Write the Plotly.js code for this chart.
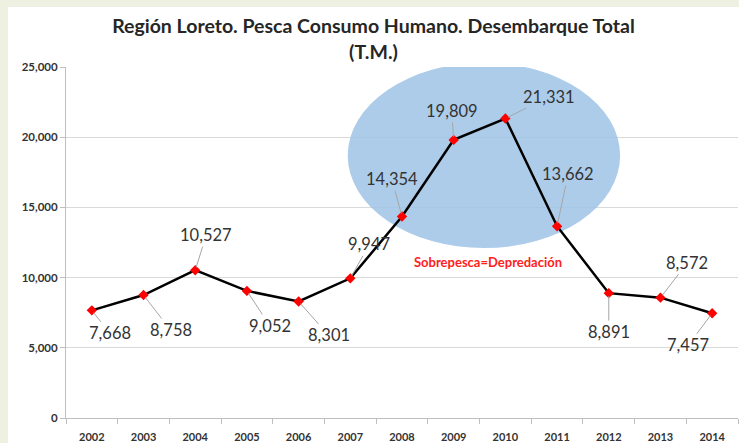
<!DOCTYPE html>
<html><head><meta charset="utf-8">
<script src="https://cdn.plot.ly/plotly-3.0.1.min.js"></script>
<style>
html,body{margin:0;padding:0;background:#eef0e1;width:739px;height:443px;overflow:hidden;}
#chart{position:absolute;left:8px;top:7px;width:731px;height:436px;background:#fff;}
</style></head>
<body><div id="chart"></div>
<script>
const years = [2002, 2003, 2004, 2005, 2006, 2007, 2008, 2009, 2010, 2011, 2012, 2013, 2014];
const values = [7668, 8758, 10527, 9052, 8301, 9947, 14354, 19809, 21331, 13662, 8891, 8572, 7457];
const valueLabels = ["7,668","8,758","10,527","9,052","8,301","9,947","14,354","19,809","21,331","13,662","8,891","8,572","7,457"];
const yearLabels = ["2002","2003","2004","2005","2006","2007","2008","2009","2010","2011","2012","2013","2014"];
const yTicks = [0, 5000, 10000, 15000, 20000, 25000];
const yTickLabels = ["0","5,000","10,000","15,000","20,000","25,000"];
const titleText = "Región Loreto. Pesca Consumo Humano. Desembarque Total<br>(T.M.)";
const noteText = "Sobrepesca=Depredación";

// label offsets (pixels) for each data label
const offX = [18, 27, 11, 23, 30, 19, -10, -2, 44, 11, 0, 27, -24];
const offY = [23, 35, -35, 35, 34, -34, -37, -29, -22, -52, 39, -35, 32];

const annotations = years.map((yr, i) => ({
  x: yr, y: values[i], xref: 'x', yref: 'y',
  text: valueLabels[i], showarrow: true, arrowhead: 0, arrowwidth: 1,
  arrowcolor: '#a6a6a6', ax: offX[i], ay: offY[i], standoff: 3,
  font: {family: 'Lato, sans-serif', size: 16.5, color: '#333333'}
}));
annotations.push({
  x: 2009.66, y: 11110, xref: 'x', yref: 'y', showarrow: false,
  text: '<b>' + noteText + '</b>',
  font: {family: 'Lato, sans-serif', size: 13, color: '#ff2020'}
});

const trace = {
  x: years, y: values, type: 'scatter', mode: 'lines+markers',
  line: {color: '#000000', width: 2.5},
  marker: {symbol: 'diamond', size: 8, color: '#ff0000'},
  hoverinfo: 'skip'
};

const layout = {
  width: 731, height: 436,
  margin: {l: 58, r: 1, t: 60, b: 25},
  paper_bgcolor: '#ffffff', plot_bgcolor: '#ffffff',
  showlegend: false,
  title: {text: '<b>' + titleText + '</b>', x: 0.5, xref: 'container', xanchor: 'center',
          y: 0.94, yanchor: 'top',
          font: {family: 'Lato, sans-serif', size: 19.5, color: '#262626'}},
  xaxis: {type: 'linear', range: [2001.5, 2014.5], tickvals: years, ticktext: yearLabels,
          ticks: '', showline: true, linecolor: '#bfbfbf', linewidth: 1,
          ticklabelstandoff: 9,
          minor: {ticks: 'outside', tick0: 2001.5, dtick: 1, ticklen: 5, tickcolor: '#bfbfbf', showgrid: false},
          showgrid: false, zeroline: false,
          tickfont: {family: 'Lato, sans-serif', size: 11, color: '#333', weight: 'bold'}},
  yaxis: {range: [0, 25000], tickvals: yTicks, ticktext: yTickLabels,
          ticks: 'outside', ticklen: 5, tickcolor: '#bfbfbf',
          showline: true, linecolor: '#bfbfbf', linewidth: 1,
          gridcolor: '#d9d9d9', gridwidth: 1, zeroline: false,
          tickfont: {family: 'Lato, sans-serif', size: 11.5, color: '#333', weight: 'bold'}},
  shapes: [{
    type: 'circle', xref: 'x', yref: 'y', x0: 2006.95, x1: 2012.22, y0: 12100, y1: 25300,
    fillcolor: '#9dc3e6', opacity: 0.85, line: {width: 0}, layer: 'between'
  }],
  annotations: annotations
};

Plotly.newPlot('chart', [trace], layout, {displayModeBar: false, staticPlot: true});
</script>
</body></html>
